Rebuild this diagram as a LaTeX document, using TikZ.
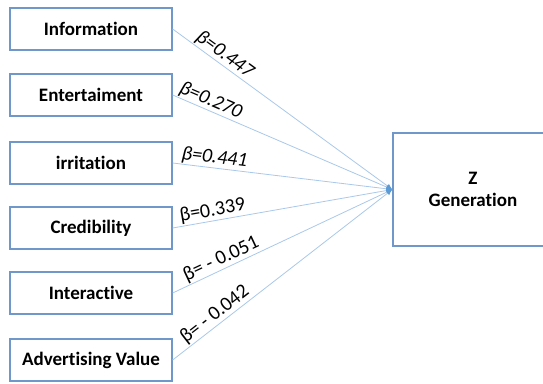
\documentclass[tikz,border=0pt]{standalone}
\usepackage{fontspec}
\setmainfont{Carlito}[Ligatures=NoCommon]
\usetikzlibrary{arrows.meta}
\definecolor{boxblue}{HTML}{6F97C9}
\definecolor{linkblue}{HTML}{A9C8EA}
\definecolor{tipblue}{HTML}{5B9BD5}

\begin{document}
\begin{tikzpicture}[x=1pt,y=-1pt,
  factor/.style={draw=boxblue, line width=1.3pt, minimum width=162pt, minimum height=42pt,
    inner sep=0pt, font=\bfseries\fontsize{19}{22}\selectfont},
  target/.style={draw=boxblue, line width=1.3pt, minimum width=160pt, minimum height=113pt,
    inner sep=0pt, align=center, font=\bfseries\fontsize{19}{22}\selectfont},
  link/.style={draw=linkblue, line width=0.8pt, -{Latex[length=6pt,width=5pt,color=tipblue]}},
  coef/.style={sloped, above, inner sep=1pt, font=\fontsize{20}{22}\selectfont},
  coefit/.style={coef, font=\itshape\fontsize{20}{22}\selectfont}]
\useasboundingbox (0,0) rectangle (543,383);
\clip (0,0) rectangle (543,383);

% predictor boxes
\node[factor] (inf) at (91,29)  {Information};
\node[factor] (ent) at (91,95)  {Entertaiment};
\node[factor] (irr) at (91,163) {irritation};
\node[factor] (cre) at (91,228) {Credibility};
\node[factor] (int) at (91,293) {Interactive};
\node[factor] (adv) at (91,360) {Advertising Value};

% outcome box
\node[target] (z) at (473,189.5) {Z\\Generation};

% paths with coefficients
\draw[link] (inf.east) -- node[coefit, pos=0.21] {β=0.447} (z.west);
\draw[link] (ent.east) -- node[coefit, pos=0.155] {β=0.270} (z.west);
\draw[link] (irr.east) -- node[coefit, pos=0.185] {β=0.441} (z.west);
\draw[link] (cre.east) -- node[coef, pos=0.19] {β=0.339} (z.west);
\draw[link] (int.east) -- node[coef, pos=0.24] {β= - 0.051} (z.west);
\draw[link] (adv.east) -- node[coef, pos=0.22] {β= - 0.042} (z.west);
\end{tikzpicture}
\end{document}
